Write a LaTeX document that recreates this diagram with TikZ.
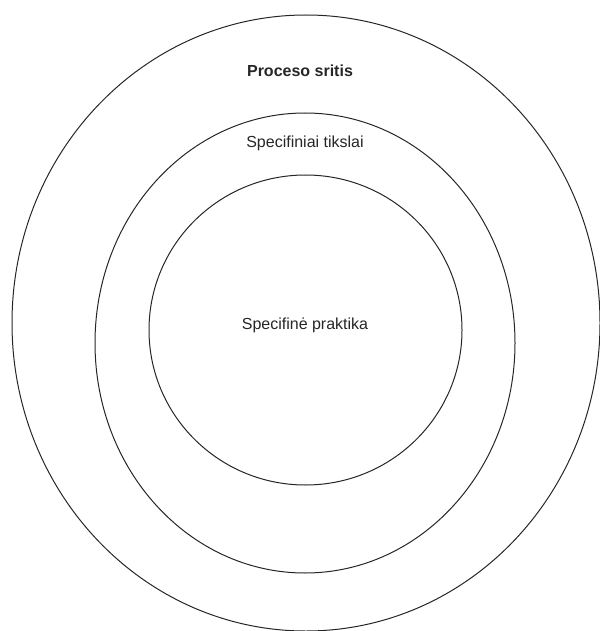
\documentclass[tikz,border=0pt]{standalone}
\usepackage{fontspec}
\setmainfont{Liberation Sans}
\usetikzlibrary{shapes.geometric}
\begin{document}
\begin{tikzpicture}[x=1pt,y=-1pt,
  ring/.style={draw=black!85, line width=1pt, ellipse, inner sep=0pt, outer sep=0pt},
  lbl/.style={font=\fontsize{16}{19}\selectfont, text=black!85, inner sep=0pt}]
\useasboundingbox (0,0) rectangle (599,631);
\node[ring, minimum width=588pt, minimum height=616pt] (outer) at (306,323) {};
\node[ring, minimum width=420pt, minimum height=460pt] (middle) at (305,343) {};
\node[ring, minimum width=313pt, minimum height=310pt] (inner) at (305.5,330) {};
\node[lbl, font=\fontsize{16}{19}\selectfont\bfseries] (t1) at (300,71) {Proceso sritis};
\node[lbl] (t2) at (305,143) {Specifiniai tikslai};
\node[lbl] (t3) at (305,325) {Specifinė praktika};
\end{tikzpicture}
\end{document}
